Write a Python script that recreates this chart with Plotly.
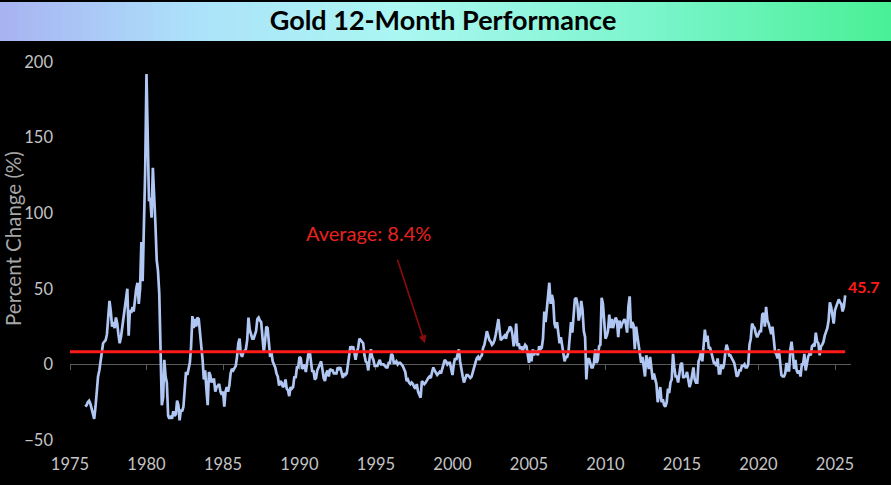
import plotly.graph_objects as go
import pandas as pd

# ---------------- data (12-month % change of gold, monthly, from Jan 1976) ----------------
start_month = "1976-01-01"
chg_1976_1979 = [
    -28, -27, -25, -24, -26, -30, -33, -36, -28, -17, -8, -4,
    2, 8, 14, 15, 16, 20, 30, 42, 35, 25, 28, 24,
    31, 27, 20, 14, 18, 24, 30, 38, 42, 50, 19, 36,
    34, 38, 35, 45, 50, 54, 40, 50, 81, 55, 95, 128,
]
chg_1980s = [
    192, 150, 108, 110, 97, 130, 105, 93, 69, 62, 47, 15,
    -27, -22, 3, -8, -12, -34, -36, -34, -36, -31, -34, -33,
    -24, -27, -37, -30, -31, -28, -17, -5, -7, -3, 1, 12,
    32, 24, 30, 25, 31, 30, 22, 9, 3, -10, -4, -16,
    -27, -5, -7, -12, -10, -10, -18, -15, -14, -13, -18, -20,
    -18, -28, -18, -15, -18, -14, -6, -3, -4, -2, -1, 5,
    14, 17, 7, 5, 8, 9, 10, 16, 31, 23, 19, 17,
    17, 20, 22, 30, 31, 29, 28, 18, 8, 15, 25, 24,
    13, 5, 8, 2, 0, -2, -6, -8, -14, -11, -12, -15,
    -14, -10, -16, -17, -21, -15, -16, -15, -8, -9, -2, -2,
]
chg_1990s = [
    5, 4, -3, -2, 0, -5, 1, 7, 9, 1, -5, -4,
    -10, -9, -4, -2, 0, 2, -3, -9, -11, -6, -4, -8,
    -3, -4, -4, -6, -6, -6, -2, -3, -2, -5, -9, -6,
    -7, -6, -1, 4, 12, 10, 12, 8, 3, 8, 11, 17,
    16, 15, 14, 6, 2, 1, -4, 4, 10, 5, 3, -1,
    -1, -1, 1, 3, 0, 0, 0, -1, -2, -2, 1, 1,
    7, 6, 1, 1, 2, 0, 1, 1, 0, -1, -3, -5,
    -11, -10, -12, -13, -12, -13, -15, -16, -13, -18, -20, -22,
    -11, -12, -13, -12, -10, -9, -8, -9, -5, -2, -4, -6,
    -7, -6, -5, -6, -3, -1, 3, 2, 0, 1, 1, -3,
]
chg_2000s = [
    -7, 0, 4, 3, 7, 10, 2, -4, -8, -12, -10, -7,
    -7, -8, -9, -8, -4, -2, 1, 4, 5, 3, 5, 6,
    11, 13, 17, 22, 19, 16, 15, 13, 14, 16, 20, 26,
    30, 22, 16, 17, 18, 19, 17, 21, 22, 25, 24, 20,
    12, 16, 27, 12, 14, 10, 12, 9, 11, 13, 12, 5,
    1, 8, 2, 10, 6, 9, 8, 6, 12, 10, 11, 17,
    35, 28, 36, 48, 54, 40, 46, 42, 27, 24, 28, 21,
    14, 18, 12, 6, 2, 5, 5, 8, 22, 28, 21, 30,
    43, 44, 40, 29, 33, 42, 36, 22, 18, -10, 3, 4,
    0, -2, -2, 1, 10, 1, 3, 12, 13, 44, 40, 25,
]
chg_2010s = [
    17, 19, 22, 33, 24, 30, 24, 28, 31, 29, 18, 29,
    24, 27, 29, 30, 27, 21, 38, 45, 24, 28, 26, 10,
    25, 18, 13, 6, 1, 5, 0, -8, 6, 0, -3, 5,
    -5, -10, -6, -11, -13, -25, -19, -15, -25, -23, -27, -28,
    -25, -16, -19, -12, -10, 7, -2, -8, -8, -12, -6, 0,
    1, -9, -8, -8, -5, -11, -15, -12, -8, -2, -10, -12,
    -12, 2, 4, 9, 2, 13, 23, 15, 19, 11, 11, 8,
    5, 1, 1, -1, 4, -6, -6, 0, -3, 0, 8, 13,
    10, 6, 6, 4, 3, 1, -3, -8, -7, -4, -4, -1,
    -1, 0, -2, -2, 0, 13, 17, 27, 25, 24, 20, 18,
]
chg_2020s = [
    20, 22, 22, 33, 34, 25, 38, 29, 27, 24, 20, 25,
    17, 8, 7, 4, 10, 0, -7, -8, -8, -6, 1, -4,
    -4, 10, 15, 7, -3, 3, -4, -6, -4, -8, 0, 0,
    7, -4, 1, 5, 7, 6, 12, 13, 12, 21, 15, 14,
    6, 12, 13, 15, 19, 21, 24, 29, 41, 38, 31, 27,
    36, 39, 40, 43, 41, 40, 35, 38, 45.7,
]
average_pct = 8.4
tick_years = [1975, 1980, 1985, 1990, 1995, 2000, 2005, 2010, 2015, 2020, 2025]
tick_labels = [str(y) for y in tick_years]
y_ticks = [-50, 0, 50, 100, 150, 200]

values = chg_1976_1979 + chg_1980s + chg_1990s + chg_2000s + chg_2010s + chg_2020s
dates = pd.date_range(start_month, periods=len(values), freq="MS")

# ---------------- layout geometry ----------------
W, H = 891, 485
ML, MR, MT, MB = 70, 40, 62, 45
PW, PH = W - ML - MR, H - MT - MB
Y_RANGE = [-50, 200]
X_RANGE = ["1975-01-01", "2026-01-18"]


def paper_x(px):
    return (px - ML) / PW


def paper_y(py):
    return (H - MB - py) / PH


FONT = "Lato"
fig = go.Figure()

fig.add_trace(go.Scatter(
    x=dates, y=values, mode="lines",
    line=dict(color="#b0c6f3", width=2.7),
    hoverinfo="skip", showlegend=False,
))
fig.add_trace(go.Scatter(
    x=[pd.Timestamp(X_RANGE[0]), dates[-1]], y=[average_pct, average_pct],
    mode="lines", line=dict(color="#ff1a1a", width=3),
    xaxis="x2", hoverinfo="skip", showlegend=False,
))

# gradient title band
stops = [(0.0, (168, 178, 242)), (0.22, (172, 226, 250)), (0.45, (170, 247, 242)),
         (0.72, (125, 245, 205)), (1.0, (72, 240, 150))]


def grad(f):
    for (f0, c0), (f1, c1) in zip(stops[:-1], stops[1:]):
        if f <= f1:
            t = (f - f0) / (f1 - f0)
            return "rgb(%d,%d,%d)" % tuple(round(a + (b - a) * t) for a, b in zip(c0, c1))
    return "rgb(%d,%d,%d)" % stops[-1][1]


shapes = []
N = 99
for i in range(N):
    x0 = W * i / N
    x1 = W * (i + 1) / N + 0.6
    shapes.append(dict(type="rect", xref="paper", yref="paper",
                       x0=paper_x(x0), x1=paper_x(x1), y0=paper_y(41), y1=paper_y(2),
                       fillcolor=grad((i + 0.5) / N), line=dict(width=0), layer="below"))

annotations = [
    dict(text="Average: 8.4%", x="1994-07-15", y=87, xref="x", yref="y",
         showarrow=False, font=dict(family=FONT, size=20, color="#e8231e"),
         xanchor="center", yanchor="middle"),
    dict(text="", x="1998-03-15", y=14, xref="x", yref="y", showarrow=True,
         ax=-28, ay=-85, arrowhead=2, arrowsize=1, arrowwidth=1.6, arrowcolor="#8a0c0c"),
    dict(text="%.1f" % values[-1], x=dates[-1], y=values[-1] + 6, xref="x", yref="y",
         showarrow=False, xanchor="left", yanchor="middle", xshift=1,
         font=dict(family=FONT, size=16, color="#ff1a1a", weight="bold")),
    dict(text="Percent Change (%)", x=0, y=83, xref="paper", yref="y", xshift=-57,
         textangle=-90, showarrow=False, xanchor="center", yanchor="middle",
         font=dict(family=FONT, size=20.5, color="#a6a6a6")),
]

fig.update_layout(
    width=W, height=H,
    margin=dict(l=ML, r=MR, t=MT, b=MB, pad=0),
    paper_bgcolor="black", plot_bgcolor="black",
    title=dict(text="<b>Gold 12-Month Performance</b>", x=443 / W, y=1 - 21 / H,
               xanchor="center", yanchor="middle",
               font=dict(family=FONT, size=27, color="black")),
    xaxis=dict(type="date", range=X_RANGE, tickvals=["%d-01-01" % y for y in tick_years],
               ticktext=tick_labels, showgrid=False, zeroline=False, showline=False,
               ticks="", ticklabelstandoff=12,
               tickfont=dict(family=FONT, size=16.5, color="#c4c4c4")),
    xaxis2=dict(type="date", range=X_RANGE, overlaying="x", anchor="free",
                position=(0 - Y_RANGE[0]) / (Y_RANGE[1] - Y_RANGE[0]), side="bottom",
                tickvals=["%d-01-01" % y for y in tick_years], showticklabels=False,
                showgrid=False, zeroline=False, showline=True, linecolor="#5a5a5a",
                linewidth=1, ticks="outside", ticklen=5, tickcolor="#5a5a5a",
                layer="below traces"),
    yaxis=dict(range=Y_RANGE, tickvals=y_ticks, showgrid=False, zeroline=False,
               showline=False, ticks="", ticklabelstandoff=16,
               tickfont=dict(family=FONT, size=16.5, color="#c4c4c4")),
    shapes=shapes, annotations=annotations, showlegend=False,
)

fig.write_html("out.html")
